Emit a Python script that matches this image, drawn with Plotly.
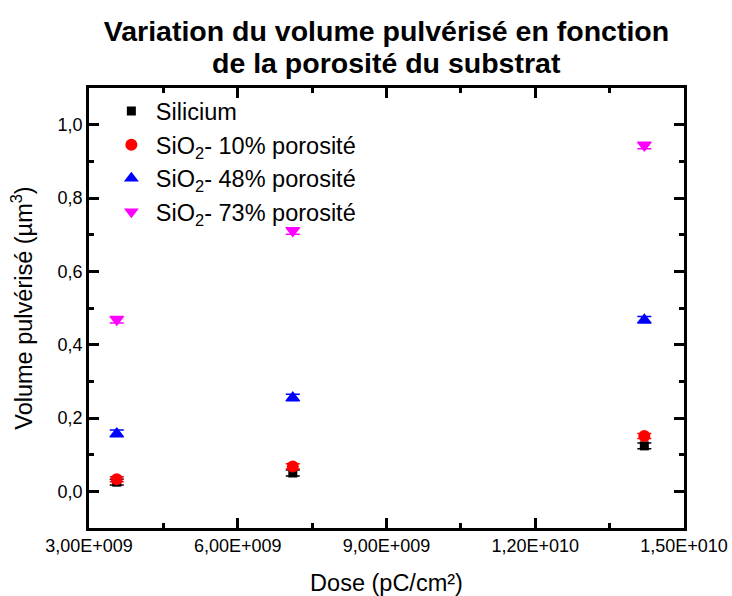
import plotly.graph_objects as go

dose = [3.56e9, 7.11e9, 1.42e10]
silicium = [0.025, 0.050, 0.124]
sio2_10 = [0.033, 0.068, 0.151]
sio2_48 = [0.158, 0.256, 0.468]
sio2_73 = [0.468, 0.710, 0.943]
err_si = [0.008, 0.008, 0.008]
err_10 = [0.007, 0.007, 0.007]
err_48 = [0.009, 0.009, 0.009]
err_73 = [0.009, 0.009, 0.009]

names = ["Silicium", "SiO<sub>2</sub>- 10% porosité", "SiO<sub>2</sub>- 48% porosité", "SiO<sub>2</sub>- 73% porosité"]
series = [silicium, sio2_10, sio2_48, sio2_73]
errs = [err_si, err_10, err_48, err_73]
colors = ["#000000", "#ff0000", "#0000ff", "#ff00ff"]
symbols = ["square", "circle", "triangle-up", "triangle-down"]
sizes = [9, 12, 13, 13]

x_tickvals = [3e9, 6e9, 9e9, 1.2e10, 1.5e10]
x_ticktext = ["3,00E+009", "6,00E+009", "9,00E+009", "1,20E+010", "1,50E+010"]

FONT = "Liberation Sans, Arial"

fig = go.Figure()
for i, (nm, ys, er, c, s, sz) in enumerate(zip(names, series, errs, colors, symbols, sizes)):
    fig.add_trace(go.Scatter(
        x=dose, y=ys, mode="markers", name=nm, legendgroup=str(i),
        marker=dict(color=c, symbol=s, size=sz),
        error_y=dict(type="data", array=er, color=c, thickness=1.5, width=7),
    ))

axis_common = dict(
    showline=True, linecolor="black", linewidth=2.5, mirror="ticks",
    ticks="inside", ticklen=10, tickwidth=2.5, tickcolor="black",
    showgrid=False, zeroline=False, automargin=False,
    tickfont=dict(family=FONT, size=18, color="black"),
)

fig.update_xaxes(
    range=[3e9, 1.5e10], tickmode="array", tickvals=x_tickvals, ticktext=x_ticktext,
    minor=dict(ticks="inside", ticklen=5, tickwidth=2.5, tickcolor="black", dtick=1.5e9, tick0=3e9),
    title=dict(text="Dose (pC/cm²)", font=dict(family=FONT, size=23.5, color="black"), standoff=24),
    **axis_common,
)
fig.update_yaxes(
    range=[-0.1, 1.1], tickmode="linear", tick0=0, dtick=0.2, tickformat=".1f",
    minor=dict(ticks="inside", ticklen=5, tickwidth=2.5, tickcolor="black", dtick=0.1, tick0=0),
    title=dict(text="Volume pulvérisé (µm<sup>3</sup>)", font=dict(family=FONT, size=23.5, color="black"), standoff=19),
    **axis_common,
)

fig.update_layout(
    width=732, height=596,
    margin=dict(l=89, r=48, t=88, b=68),
    paper_bgcolor="white", plot_bgcolor="white",
    separators=", ",
    title=dict(
        text="<b>Variation du volume pulvérisé en fonction</b>",
        xref="paper", x=0.5, xanchor="center",
        yref="container", y=1 - 31 / 596, yanchor="middle",
        font=dict(family=FONT, size=28.5, color="black"),
    ),
    legend=dict(
        x=0.03, y=0.997, xanchor="left", yanchor="top",
        bgcolor="rgba(0,0,0,0)", borderwidth=0,
        font=dict(family=FONT, size=23.5, color="black"),
        tracegroupgap=0, itemwidth=39,
    ),
    showlegend=True,
)
fig.add_annotation(
    text="<b>de la porosité du substrat</b>",
    xref="paper", yref="paper", x=0.5, y=1 + (88 - 63) / 440,
    xanchor="center", yanchor="middle", showarrow=False,
    font=dict(family=FONT, size=28.5, color="black"),
)

fig.write_html("out.html", config={"displayModeBar": False},
               post_script="document.body.style.margin='0';")
